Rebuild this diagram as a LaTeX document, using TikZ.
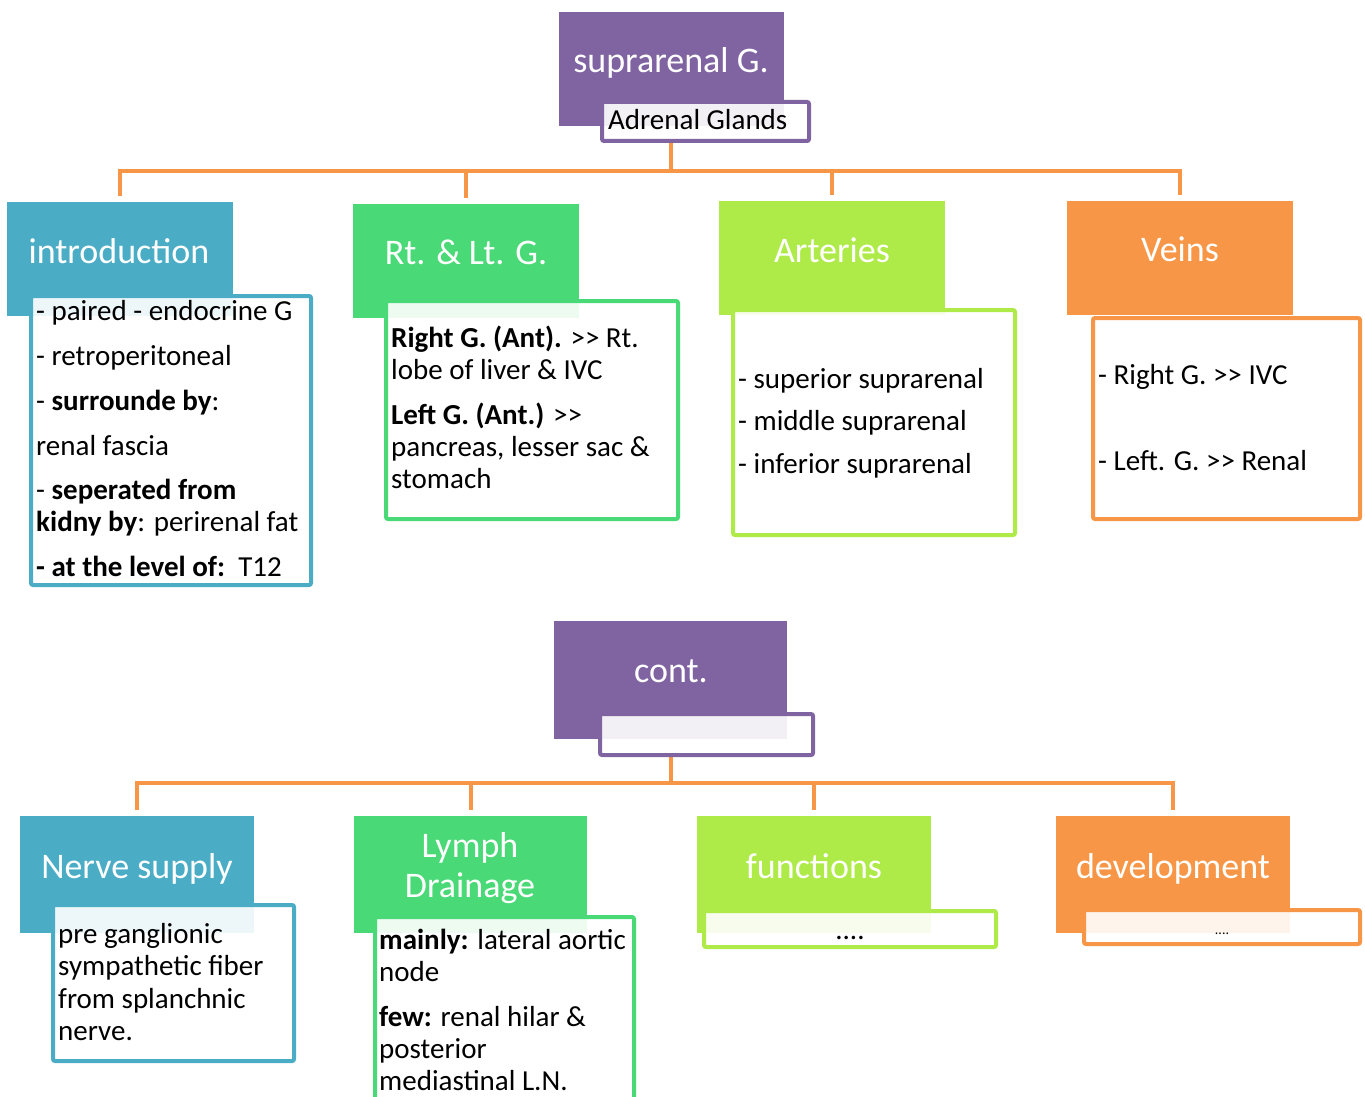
\documentclass[tikz,border=0pt]{standalone}
\usepackage{fontspec}
\setmainfont{Carlito}
\definecolor{cpurple}{HTML}{8064A2}
\definecolor{cblue}{HTML}{4BACC6}
\definecolor{cgreen}{HTML}{4AD977}
\definecolor{clime}{HTML}{AEEA48}
\definecolor{corange}{HTML}{F79646}
\newcommand{\gtgt}{>\kern0pt>}
\tikzset{
  conn/.style={draw=corange, line width=4pt},
  hdrbox/.style={inner sep=0pt, outer sep=0pt, draw=none},
  bbox/.style={draw, line width=4pt, fill=white, fill opacity=0.9, rounded corners=2pt, inner sep=0pt, outer sep=0pt},
  htxt/.style={text=white, font=\fontsize{36}{41}\selectfont, inner sep=0pt, anchor=base, align=center},
  btxt/.style={font=\fontsize{29}{32}\selectfont, inner sep=0pt, anchor=base west},
}
\begin{document}
\begin{tikzpicture}[x=1pt,y=-1pt]
\useasboundingbox (0,0) rectangle (1365,1097);
% ---------- top part ----------
\node[hdrbox, fill=cpurple, minimum width=225pt, minimum height=114pt] (h0) at (671.5,69) {};
\coordinate (j0) at (671,171);
\draw[conn] (j0 |- 0,143) -- (j0);
\node[hdrbox, fill=cblue, minimum width=226pt, minimum height=114pt] (h1) at (120,259) {};
\node[hdrbox, fill=cgreen, minimum width=226pt, minimum height=114pt] (h2) at (466,261) {};
\node[hdrbox, fill=clime, minimum width=226pt, minimum height=114pt] (h3) at (832,258) {};
\node[hdrbox, fill=corange, minimum width=226pt, minimum height=114pt] (h4) at (1180,258) {};
\draw[conn, shorten >=6pt] (j0) -| (h1.north);
\draw[conn, shorten >=6pt] (j0) -| (h2.north);
\draw[conn, shorten >=6pt] (j0) -| (h3.north);
\draw[conn, shorten >=6pt] (j0) -| (h4.north);
\node[bbox, draw=cpurple, minimum width=207pt, minimum height=39pt] (s0) at (705.5,121.5) {};
\node[bbox, draw=cblue, minimum width=280pt, minimum height=289pt] (b1) at (171,440.5) {};
\node[bbox, draw=cgreen, minimum width=292pt, minimum height=218pt] (b2) at (532,410) {};
\node[bbox, draw=clime, minimum width=282pt, minimum height=225pt] (b3) at (874,422.5) {};
\node[bbox, draw=corange, minimum width=267pt, minimum height=201pt] (b4) at (1226.5,418.5) {};

\node[htxt] (t0) at (671,73) {suprarenal G.};
\node[btxt] (t0s) at (608,130) {Adrenal Glands};
\node[htxt] (t1) at (119,263) {introduction};
\node[htxt] (t2) at (466,264) {Rt. \& Lt. G.};
\node[htxt] (t3) at (832,262) {Arteries};
\node[htxt] (t4) at (1180,261) {Veins};

\node[btxt] (i1) at (36,320) {- paired - endocrine G};
\node[btxt] (i2) at (36,365) {- retroperitoneal};
\node[btxt] (i3) at (36,410) {- \textbf{surrounde by}:};
\node[btxt] (i4) at (36,455) {renal fascia};
\node[btxt] (i5) at (36,499) {- \textbf{seperated from}};
\node[btxt] (i6) at (36,531) {\textbf{kidny by}: perirenal fat};
\node[btxt] (i7) at (36,576) {\textbf{- at the level of:}\ \ T12};

\node[btxt] (r1) at (391,347) {\textbf{Right G. (Ant).} \gtgt{} Rt.};
\node[btxt] (r2) at (391,379) {lobe of liver \& IVC};
\node[btxt] (r3) at (391,424) {\textbf{Left G. (Ant.)} \gtgt};
\node[btxt] (r4) at (391,456) {pancreas, lesser sac \&};
\node[btxt] (r5) at (391,488) {stomach};

\node[btxt] (a1) at (738,388) {- superior suprarenal};
\node[btxt] (a2) at (738,430) {- middle suprarenal};
\node[btxt] (a3) at (738,473) {- inferior suprarenal};

\node[btxt] (v1) at (1098,384) {- Right G. \gtgt{} IVC};
\node[btxt] (v2) at (1098,470) {- Left. G. \gtgt{} Renal};

% ---------- bottom part ----------
\node[hdrbox, fill=cpurple, minimum width=233pt, minimum height=118pt] (h5) at (670.5,680) {};
\coordinate (j5) at (671,783);
\draw[conn] (j5 |- 0,757) -- (j5);
\node[hdrbox, fill=cblue, minimum width=234pt, minimum height=117pt] (h6) at (137,874.5) {};
\node[hdrbox, fill=cgreen, minimum width=233pt, minimum height=117pt] (h7) at (470.5,874.5) {};
\node[hdrbox, fill=clime, minimum width=234pt, minimum height=117pt] (h8) at (814,874.5) {};
\node[hdrbox, fill=corange, minimum width=234pt, minimum height=117pt] (h9) at (1173,874.5) {};
\draw[conn, shorten >=6pt] (j5) -| (h6.north);
\draw[conn, shorten >=6pt] (j5) -| (h7.north);
\draw[conn, shorten >=6pt] (j5) -| (h8.north);
\draw[conn, shorten >=6pt] (j5) -| (h9.north);
\node[bbox, draw=cpurple, minimum width=213pt, minimum height=41pt] (s5) at (706.5,734.5) {};
\node[bbox, draw=cblue, minimum width=241pt, minimum height=156pt] (b6) at (173.5,983) {};
\node[bbox, draw=cgreen, minimum width=259pt, minimum height=190pt] (b7) at (504.5,1012) {};
\node[bbox, draw=clime, minimum width=292pt, minimum height=36pt] (b8) at (850,929) {};
\node[bbox, draw=corange, minimum width=276pt, minimum height=34pt] (b9) at (1222,927) {};

\node[htxt] (t5) at (671,682) {cont.};
\node[htxt] (t6) at (137,878) {Nerve supply};
\node[htxt] (t7a) at (470,857) {Lymph};
\node[htxt] (t7b) at (470,897) {Drainage};
\node[htxt] (t8) at (814,878) {functions};
\node[htxt] (t9) at (1173,878) {development};

\node[btxt] (n1) at (58,943) {pre ganglionic};
\node[btxt] (n2) at (58,975) {sympathetic fiber};
\node[btxt] (n3) at (58,1008) {from splanchnic};
\node[btxt] (n4) at (58,1040) {nerve.};

\node[btxt] (l1) at (379,949) {\textbf{mainly:} lateral aortic};
\node[btxt] (l2) at (379,981) {node};
\node[btxt] (l3) at (379,1026) {\textbf{few:} renal hilar \&};
\node[btxt] (l4) at (379,1058) {posterior};
\node[btxt] (l5) at (379,1090) {mediastinal L.N.};

\node[btxt, anchor=base] (f1) at (850,939) {....};
\node[inner sep=0pt, anchor=base, font=\fontsize{14}{16}\selectfont] (d1) at (1222,934) {....};
\end{tikzpicture}
\end{document}
